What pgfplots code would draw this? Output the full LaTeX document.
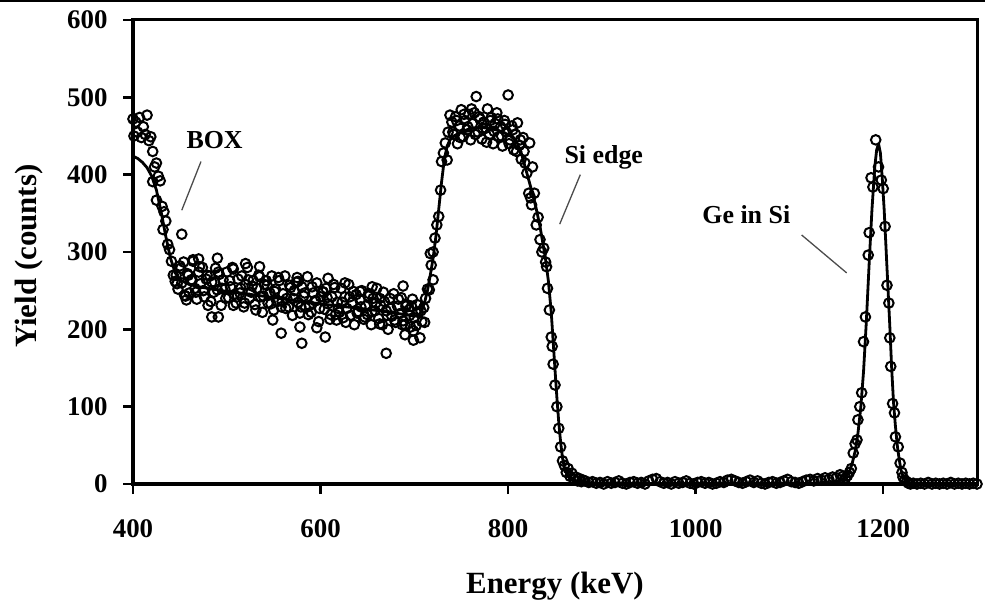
\documentclass[border=0pt]{standalone}
\usepackage{fontspec}
\setmainfont{Liberation Serif}
\usepackage{pgfplots}
\usepackage{pgfplotstable}
\pgfplotsset{compat=1.18}

% Measured RBS spectrum (channel energy in keV, counts)
\pgfplotstableread{
E Y
400 472
401 450
403 468
405 455
407 474
409 448
411 462
413 452
415 477
417 444
419 449
421 430
421 391
423 410
425 415
425 367
427 398
429 392
431 359
432 329
433 352
435 340
437 310
439 303
441 288
443 270
445 262
446 270
448 252
450 282
452 260
454 287
456 243
458 272
460 247
462 264
464 288
466 253
468 239
470 274
472 259
474 280
476 242
478 265
480 231
482 269
484 261
486 248
488 279
490 251
492 271
494 231
496 264
498 252
500 274
502 241
504 255
506 280
508 245
510 234
512 265
514 247
516 269
518 229
520 258
522 280
524 240
526 248
528 263
530 232
532 253
534 270
536 242
538 222
540 258
542 263
544 234
546 247
548 269
550 225
552 252
554 236
556 263
558 229
560 246
562 269
564 240
566 229
568 254
570 218
572 250
574 261
576 235
578 221
580 255
582 243
584 228
586 268
588 231
590 222
592 247
594 237
596 260
598 210
600 242
602 249
604 226
606 253
608 233
610 213
612 242
614 258
616 219
618 235
620 222
622 253
624 215
626 242
628 227
630 258
632 218
634 235
636 206
638 245
640 223
642 238
644 250
646 213
648 230
650 219
652 246
654 206
656 240
658 224
660 253
662 214
664 231
666 206
668 236
670 224
672 200
674 240
676 217
678 246
680 209
682 230
684 220
686 241
688 211
690 193
692 232
694 225
696 203
698 239
700 215
702 205
704 222
706 189
708 210
710 228
712 240
447 259
451 279
455 244
459 270
463 264
467 248
471 281
475 250
479 270
483 236
487 261
491 274
495 253
499 240
503 263
507 278
511 242
515 253
519 234
523 264
527 256
531 225
535 268
539 243
543 257
547 233
551 249
555 267
559 236
563 227
567 257
571 240
575 267
579 229
583 247
587 219
591 255
595 237
599 227
603 248
607 241
611 219
615 254
619 227
623 235
627 209
631 242
635 249
639 221
643 229
647 216
651 243
655 223
659 234
663 207
667 248
671 218
675 227
679 212
683 239
687 206
691 230
695 218
699 198
703 232
707 224
711 209
452 323
464 290
490 292
484 216
491 216
558 195
580 182
605 190
576 262
608 266
626 260
670 169
688 256
699 186
596 202
578 203
549 212
507 231
457 238
642 249
663 240
520 285
535 281
470 291
617 212
655 255
690 206
697 230
714 252
716 251
717 298
718 283
720 264
720 300
722 318
724 335
726 346
728 380
729 417
731 428
733 441
735 419
736 455
738 477
740 468
741 455
742 452
744 475
745 470
746 440
748 463
749 448
750 484
752 449
753 478
754 470
756 458
757 462
758 478
760 445
761 485
762 466
764 480
765 452
766 501
768 455
769 475
770 472
772 446
773 460
774 468
776 460
777 442
778 485
780 452
781 470
782 474
784 440
785 456
786 466
788 480
789 472
790 449
792 462
793 450
794 437
796 470
797 465
798 455
800 503
801 440
802 445
804 463
805 458
806 432
808 452
809 430
810 467
812 438
813 445
814 420
816 448
817 430
818 415
820 402
822 376
823 441
824 370
825 361
826 410
828 376
830 335
832 345
834 316
836 300
838 305
840 287
841 281
842 253
844 225
846 190
847 178
848 155
850 128
852 100
854 72
856 48
858 30
860 24
862 15
864 20
866 10
868 14
870 6
872 9
874 4
876 7
878 3
880 5
882 4
886 2
890 3
894 1
898 2
902 0
906 3
910 1
914 2
918 4
922 1
926 0
930 2
934 3
938 1
942 2
946 0
950 4
954 6
958 7
962 3
966 1
970 2
974 0
978 3
982 1
986 2
990 4
994 1
998 0
1002 2
1006 3
1010 1
1014 2
1018 0
1022 1
1026 3
1030 2
1034 5
1038 6
1042 4
1046 2
1050 1
1054 3
1058 5
1062 2
1066 4
1070 1
1074 0
1078 2
1082 3
1086 1
1090 2
1094 4
1098 6
1102 3
1106 2
1110 1
1114 3
1118 5
1122 6
1126 4
1130 7
1134 5
1138 8
1142 6
1146 9
1150 8
1154 12
1157 10
1160 8
1162 11
1164 15
1166 20
1168 40
1170 52
1172 57
1173 83
1175 100
1177 118
1179 184
1181 216
1184 296
1185 325
1187 396
1189 384
1192 445
1195 410
1198 393
1200 382
1202 333
1204 257
1206 234
1207 189
1208 152
1210 104
1212 92
1213 61
1216 48
1218 27
1220 15
1221 9
1223 5
1225 3
1227 1
1229 0
1232 1
1236 0
1240 1
1244 0
1248 2
1252 0
1256 1
1260 0
1264 1
1268 0
1272 2
1276 0
1280 1
1284 0
1288 1
1292 0
1296 1
1300 0
}\spectrum

% Simulated spectrum
\pgfplotstableread{
E Y
400 424
405 421
410 416
415 409
420 398
425 380
430 352
435 320
440 292
445 273
450 264
460 258
470 255
480 253
500 249
520 246
550 241
580 236
600 233
620 230
650 226
680 221
695 218
700 217
705 219
708 224
711 235
714 250
717 270
720 292
723 320
726 355
729 390
732 420
735 437
738 445
742 450
750 455
760 460
770 461
780 460
790 457
800 452
806 447
810 440
814 428
817 415
820 402
825 380
830 356
834 333
837 312
840 290
843 262
846 222
848 185
850 148
852 112
854 80
856 54
858 34
860 21
863 12
866 7
870 4
876 2
885 1
900 0
1100 0
1140 1
1150 3
1155 5
1160 9
1164 16
1167 27
1170 42
1173 65
1176 98
1179 145
1182 210
1185 285
1188 355
1191 410
1193 432
1195 440
1197 428
1199 395
1201 355
1203 305
1205 255
1207 205
1209 150
1211 105
1213 75
1215 50
1217 32
1219 18
1221 10
1224 5
1228 1
1232 0
1300 0
}\simfit

\begin{document}
\begin{tikzpicture}
\useasboundingbox (0,0) rectangle (985bp,602bp);
\fill[black] (0,599.5bp) rectangle (985bp,602bp);
\begin{axis}[
  at={(133bp,118bp)}, anchor=south west,
  width=844bp, height=464bp, scale only axis,
  xmin=400, xmax=1300, ymin=0, ymax=600,
  xtick={400,600,800,1000,1200},
  ytick={0,100,200,300,400,500,600},
  tick align=outside, xtick pos=bottom, ytick pos=left,
  major tick length=10bp,
  every tick/.style={black, line width=2.5bp},
  axis line style={line width=3bp},
  tick label style={font=\bfseries\fontsize{27}{27}\selectfont},
  xticklabel style={yshift=-22bp},
  yticklabel style={xshift=-12bp},
  /pgf/number format/assume math mode=true,
  /pgf/number format/1000 sep={},
  xlabel={Energy (keV)},
  ylabel={Yield (counts)},
  label style={font=\bfseries\fontsize{31}{31}\selectfont},
  xlabel style={at={(axis description cs:0.5,-0.235)}, anchor=base},
  ylabel style={at={(axis description cs:-0.114,0.491)}, anchor=base, rotate=0},
  clip=false,
]
\addplot[only marks, mark=o, mark size=4.8bp,
  mark options={line width=2bp, black}] table[x=E, y=Y] {\spectrum};
\addplot[black, line width=2.8bp, line join=round] table[x=E, y=Y] {\simfit};

\node[font=\bfseries\fontsize{26}{26}\selectfont, anchor=base] at (axis cs:487,434) {BOX};
\draw[black!70, line width=1.3bp] (axis cs:452,354) -- (axis cs:472.5,417);
\node[font=\bfseries\fontsize{26}{26}\selectfont, anchor=base] at (axis cs:902,415) {Si edge};
\draw[black!70, line width=1.3bp] (axis cs:855,336) -- (axis cs:877,400);
\node[font=\bfseries\fontsize{26}{26}\selectfont, anchor=base] at (axis cs:1054,337) {Ge in Si};
\draw[black!70, line width=1.3bp] (axis cs:1113,322) -- (axis cs:1161,273);
\end{axis}
\end{tikzpicture}
\end{document}
